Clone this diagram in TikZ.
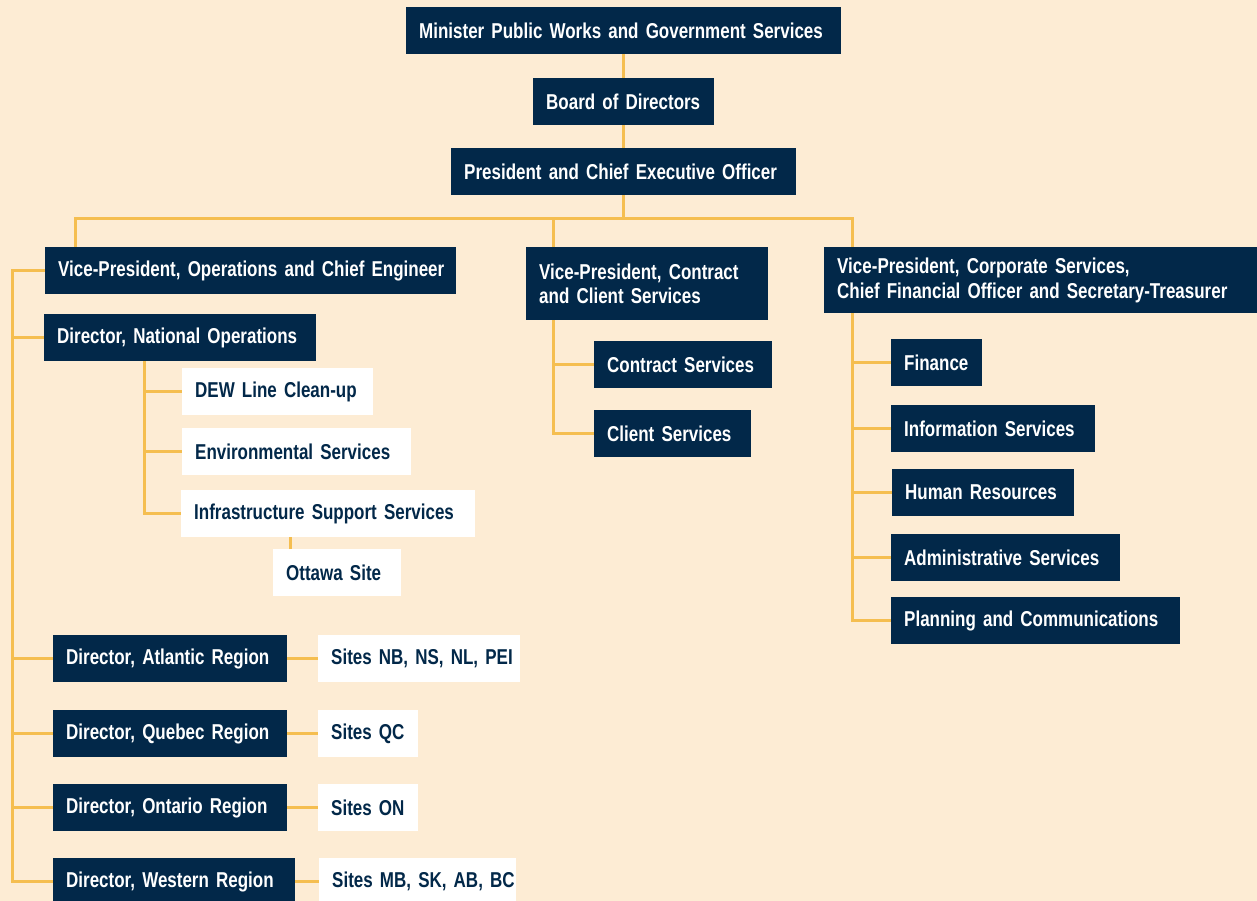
\documentclass[tikz,border=0pt]{standalone}
\usepackage{fontspec}
\setmainfont{Liberation Sans}[FakeStretch=0.79,WordSpace=0.75]
\definecolor{navy}{RGB}{2,40,73}
\definecolor{bg}{RGB}{253,236,212}
\definecolor{gold}{RGB}{245,190,80}
\tikzset{
  base/.style={anchor=north west, inner xsep=13pt, inner ysep=0pt, align=left,
    font=\fontsize{21.5}{24.5}\selectfont\bfseries},
  dark/.style={base, fill=navy, text=white},
  light/.style={base, fill=white, text=navy},
  sz/.style n args={2}{minimum width=#1, text width=#1-26pt, minimum height=#2},
  conn/.style={draw=gold, line width=3pt}
}
\begin{document}
\begin{tikzpicture}[x=1pt,y=-1pt]
\useasboundingbox (0,0) rectangle (1257,901);
\fill[bg] (0,0) rectangle (1257,901);

\coordinate (busL) at (75,219);
\coordinate (busM) at (553,219);
\coordinate (busR) at (852,219);
\coordinate (spL) at (12,0);
\coordinate (spN) at (144,0);
\coordinate (spC) at (553,0);
\coordinate (spR) at (852,0);

% nodes
\node[dark, sz={435pt}{47pt}] (min) at (406,7) {\mbox{Minister Public Works and Government Services}};
\node[dark, sz={181pt}{47pt}] (board) at (533,78) {\mbox{Board of Directors}};
\node[dark, sz={345pt}{47pt}] (pres) at (451,148) {\mbox{President and Chief Executive Officer}};

\node[dark, sz={411pt}{47pt}] (vpops) at (45,247) {\mbox{Vice-President, Operations and Chief Engineer}};
\node[dark, sz={242pt}{73pt}] (vpcc) at (526,247) {\mbox{Vice-President, Contract}\\\mbox{and Client Services}};
\node[dark, sz={440pt}{66pt}] (vpcorp) at (824,247) {\mbox{Vice-President, Corporate Services,}\\\mbox{Chief Financial Officer and Secretary-Treasurer}};

\node[dark, sz={272pt}{47pt}] (natops) at (44,314) {\mbox{Director, National Operations}};
\node[light, sz={191pt}{47pt}] (dew) at (182,368) {\mbox{DEW Line Clean-up}};
\node[light, sz={229pt}{47pt}] (env) at (182,428) {\mbox{Environmental Services}};
\node[light, sz={294pt}{47pt}] (infra) at (181,490) {\mbox{Infrastructure Support Services}};
\node[light, sz={128pt}{47pt}] (ottawa) at (273,549) {\mbox{Ottawa Site}};

\node[dark, sz={234pt}{47pt}] (atl) at (53,635) {\mbox{Director, Atlantic Region}};
\node[light, sz={202pt}{47pt}] (snb) at (318,635) {\mbox{Sites NB, NS, NL, PEI}};
\node[dark, sz={234pt}{47pt}] (que) at (53,710) {\mbox{Director, Quebec Region}};
\node[light, sz={100pt}{47pt}] (sqc) at (318,710) {\mbox{Sites QC}};
\node[dark, sz={234pt}{47pt}] (ont) at (53,784) {\mbox{Director, Ontario Region}};
\node[light, sz={100pt}{47pt}] (son) at (318,784) {\mbox{Sites ON}};
\node[dark, sz={242pt}{47pt}] (wes) at (53,858) {\mbox{Director, Western Region}};
\node[light, sz={197pt}{47pt}] (smb) at (319,858) {\mbox{Sites MB, SK, AB, BC}};

\node[dark, sz={178pt}{47pt}] (contract) at (594,341) {\mbox{Contract Services}};
\node[dark, sz={157pt}{47pt}] (client) at (594,410) {\mbox{Client Services}};

\node[dark, sz={91pt}{47pt}] (fin) at (891,339) {\mbox{Finance}};
\node[dark, sz={204pt}{47pt}] (info) at (891,405) {\mbox{Information Services}};
\node[dark, sz={182pt}{47pt}] (hr) at (892,469) {\mbox{Human Resources}};
\node[dark, sz={229pt}{47pt}] (admin) at (891,534) {\mbox{Administrative Services}};
\node[dark, sz={289pt}{47pt}] (plan) at (891,597) {\mbox{Planning and Communications}};

% top chain
\draw[conn] (min.south) -- (board.north);
\draw[conn] (board.south) -- (pres.north);
\draw[conn] (pres.south) -- (pres.south |- busL);
\draw[conn] (busL |- vpops.north) -- (busL) -- (busR) -- (busR |- vpcorp.north);
\draw[conn] (busM) -- (busM |- vpcc.north);

% left spine
\draw[conn] (vpops.west) -- (spL |- vpops.west) -- (spL |- wes.west) -- (wes.west);
\draw[conn] (spL |- natops.west) -- (natops.west);
\draw[conn] (spL |- atl.west) -- (atl.west);
\draw[conn] (spL |- que.west) -- (que.west);
\draw[conn] (spL |- ont.west) -- (ont.west);

% national ops
\draw[conn] (spN |- natops.south) -- (spN |- infra.west) -- (infra.west);
\draw[conn] (spN |- dew.west) -- (dew.west);
\draw[conn] (spN |- env.west) -- (env.west);
\draw[conn] ([xshift=17pt]ottawa.north west) -- ([xshift=17pt]ottawa.north west |- infra.south);

% regions to sites
\draw[conn] (atl.east) -- (snb.west);
\draw[conn] (que.east) -- (sqc.west);
\draw[conn] (ont.east) -- (son.west);
\draw[conn] (wes.east) -- (smb.west);

% contract
\draw[conn] (spC |- vpcc.south) -- (spC |- client.west) -- (client.west);
\draw[conn] (spC |- contract.west) -- (contract.west);

% corporate
\draw[conn] (spR |- vpcorp.south) -- (spR |- plan.west) -- (plan.west);
\draw[conn] (spR |- fin.west) -- (fin.west);
\draw[conn] (spR |- info.west) -- (info.west);
\draw[conn] (spR |- hr.west) -- (hr.west);
\draw[conn] (spR |- admin.west) -- (admin.west);
\end{tikzpicture}
\end{document}
